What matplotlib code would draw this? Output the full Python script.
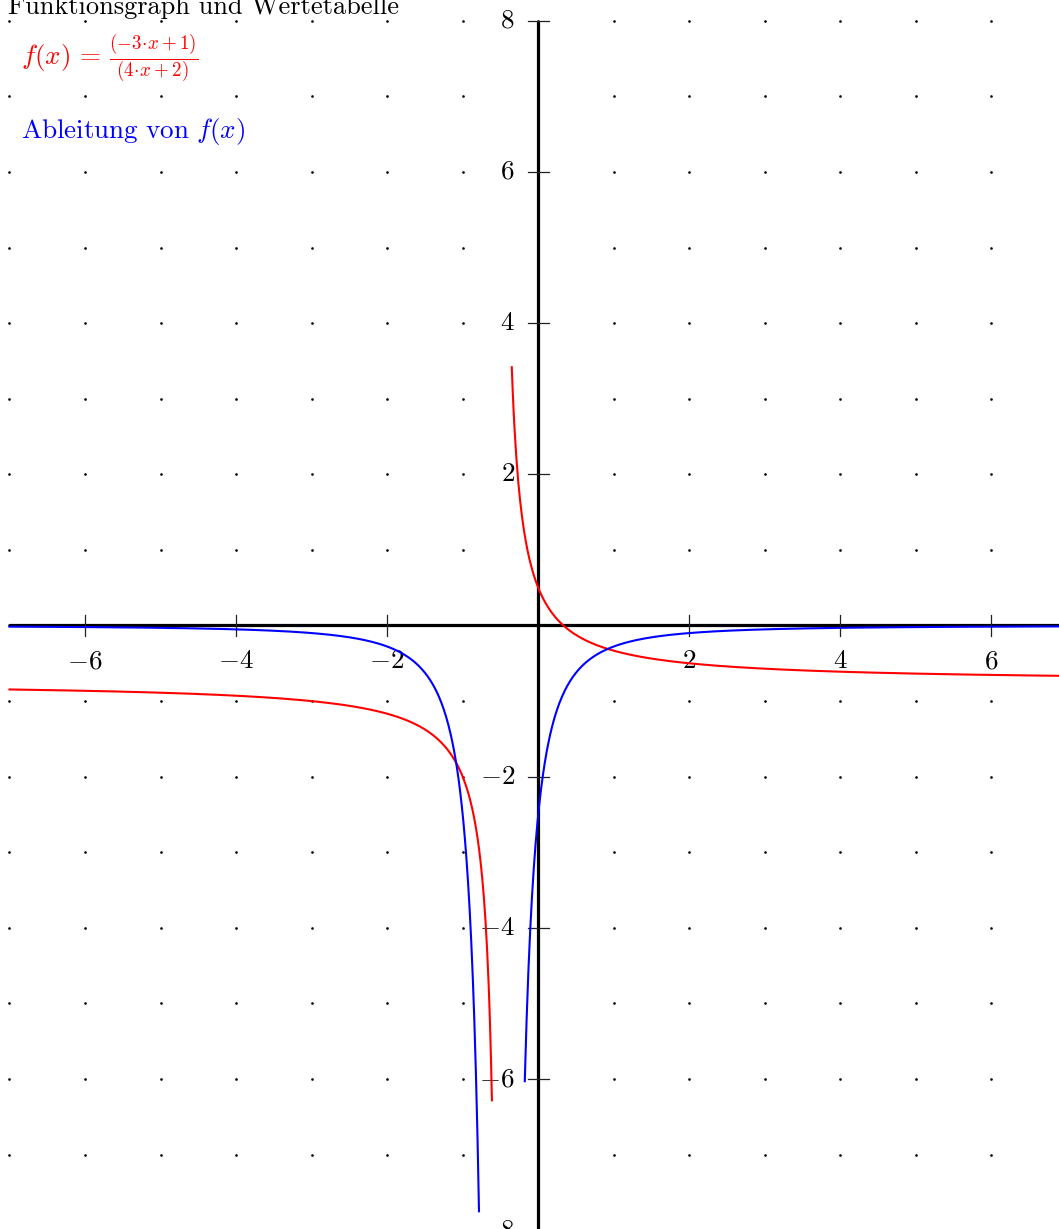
import numpy as np
import matplotlib
matplotlib.use("Agg")
import matplotlib.pyplot as plt

plt.rcParams["mathtext.fontset"] = "cm"

# f(x) = (a*x + b) / (c*x + d)
NUMERATOR = [-3, 1]
DENOMINATOR = [4, 2]

X_RANGE = [-7.0, 7.0]
Y_RANGE = [-8.0, 8.0]
# plotted pieces on either side of the pole at x = -0.5
F_BRANCHES = [(-7.0, -0.613), (-0.350, 7.0)]
DF_BRANCHES = [(-7.0, -0.784), (-0.178, 7.0)]

X_TICKS = [-6, -4, -2, 2, 4, 6]
Y_TICKS = [-8, -6, -4, -2, 2, 4, 6, 8]

TITLE = "Funktionsgraph und Wertetabelle"
DERIV_LABEL = r"$\mathrm{Ableitung\ von}\ f(x)$"


def f(x):
    a, b = NUMERATOR
    c, d = DENOMINATOR
    return (a * x + b) / (c * x + d)


def df(x):
    a, b = NUMERATOR
    c, d = DENOMINATOR
    return (a * d - b * c) / (c * x + d) ** 2


def fmt_lin(p):
    k, m = p
    sign = "+" if m >= 0 else "-"
    return r"(%d\!\cdot\! x%s%d)" % (k, sign, abs(m))


FUNC_LABEL = r"$f(x)\,=\,\frac{%s}{%s}$" % (fmt_lin(NUMERATOR), fmt_lin(DENOMINATOR))

W, H = 1059, 1229
fig = plt.figure(figsize=(W / 100, H / 100), dpi=100)
ax = fig.add_axes([0, 0, 1, 1])
ax.set_xlim(-7.125, 6.894)
ax.set_ylim(-7.983, 8.274)
ax.axis("off")

FS = 19.5

# dotted grid at integer coordinates
gx, gy = np.meshgrid(np.arange(-7, 8), np.arange(-8, 9))
ax.plot(gx.ravel(), gy.ravel(), "o", ms=1.9, color="black", mec="none", zorder=1)

# coordinate axes
ax.plot(X_RANGE, [0, 0], color="black", lw=2.3, zorder=2, solid_capstyle="butt")
ax.plot([0, 0], Y_RANGE, color="black", lw=2.3, zorder=2, solid_capstyle="butt")

tick_half = 0.14
for t in X_TICKS:
    ax.plot([t, t], [-tick_half, tick_half], color="#222222", lw=0.9, zorder=2)
    ax.text(t, -0.565, r"$%d$" % t, ha="center", va="baseline", fontsize=FS, color="black")
for t in Y_TICKS:
    ax.plot([-tick_half, tick_half], [t, t], color="#222222", lw=0.9, zorder=2)
    ax.text(-0.31, t, r"$%d$" % t, ha="right", va="center", fontsize=FS, color="black")

# function and its derivative
for lo, hi in F_BRANCHES:
    xs = np.linspace(lo, hi, 600)
    ax.plot(xs, f(xs), color="#ff0000", lw=1.5, zorder=3)
for lo, hi in DF_BRANCHES:
    xs = np.linspace(lo, hi, 600)
    ax.plot(xs, df(xs), color="#0000ff", lw=1.5, zorder=4)

# header texts, positioned in pixels from the top-left corner
px = lambda x, y: (x / W, 1 - y / H)
fig.text(*px(8, 14), TITLE, family="cmr10", fontsize=FS - 0.5, ha="left", va="baseline")
fig.text(*px(21, 65), FUNC_LABEL, fontsize=FS, color="#ff0000", ha="left", va="baseline")
fig.text(*px(21, 138), DERIV_LABEL, fontsize=FS, color="#0000ff", ha="left", va="baseline")

fig.savefig("out.png", dpi=100)
